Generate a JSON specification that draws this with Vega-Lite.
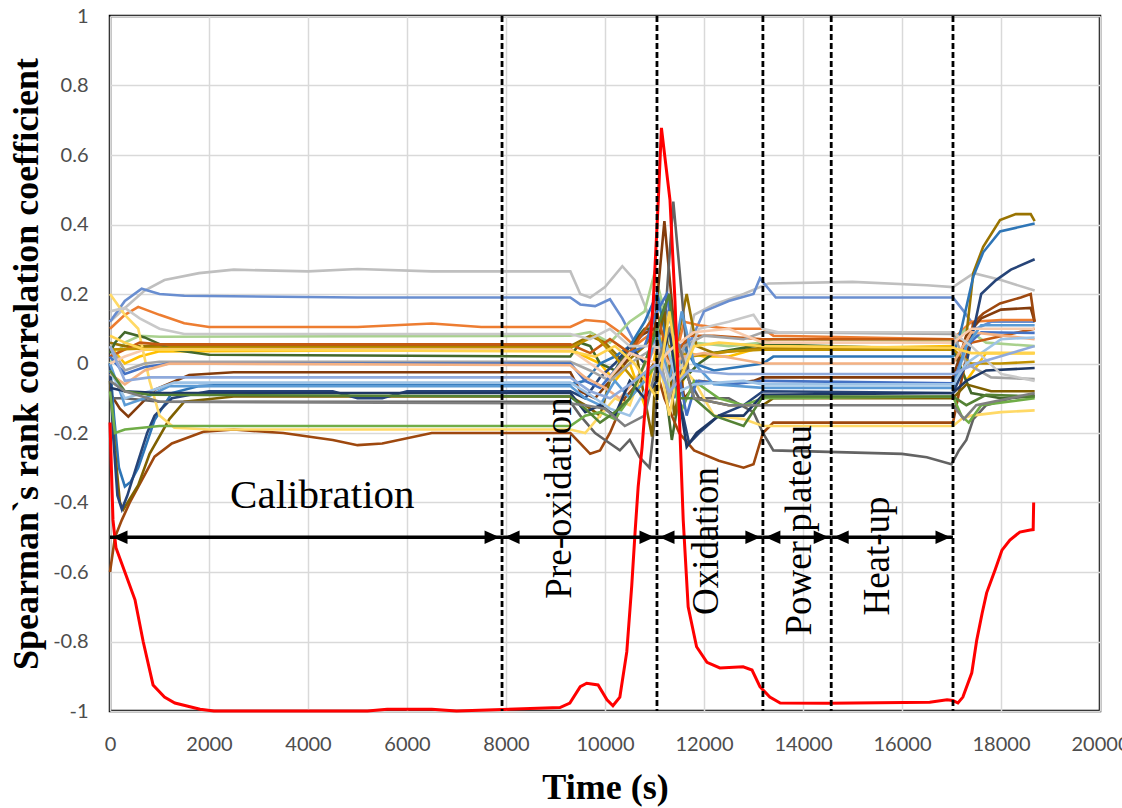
{
  "$schema": "https://vega.github.io/schema/vega-lite/v6.json",
  "width": 990,
  "height": 695,
  "autosize": {"type": "none"},
  "padding": {"left": 110, "top": 16, "right": 22, "bottom": 97},
  "background": "white",
  "config": {
    "view": {"stroke": "#000000", "strokeWidth": 2.5},
    "axis": {
      "grid": true,
      "gridColor": "#D9D9D9",
      "gridWidth": 1.5,
      "domain": false,
      "ticks": false,
      "labelFont": "Lato",
      "labelFontSize": 20,
      "labelColor": "#4D4D4D",
      "labelFlush": false,
      "labelOverlap": false,
      "titleFont": "Liberation Serif",
      "titleFontWeight": "bold",
      "titleFontSize": 36,
      "titleColor": "#000000"
    }
  },
  "datasets": {
    "rho": [
      {"s":"s01","t":0,"v":0.12},{"s":"s01","t":300,"v":0.16},{"s":"s01","t":700,"v":0.21},{"s":"s01","t":1100,"v":0.24},{"s":"s01","t":1800,"v":0.26},{"s":"s01","t":2500,"v":0.27},{"s":"s01","t":4000,"v":0.265},{"s":"s01","t":5000,"v":0.272},{"s":"s01","t":6500,"v":0.265},{"s":"s01","t":9300,"v":0.265},{"s":"s01","t":9500,"v":0.2},{"s":"s01","t":9700,"v":0.19},{"s":"s01","t":10000,"v":0.22},{"s":"s01","t":10350,"v":0.28},{"s":"s01","t":10600,"v":0.24},{"s":"s01","t":10850,"v":0.15},{"s":"s01","t":11050,"v":0.05},{"s":"s01","t":11300,"v":0.1},{"s":"s01","t":11600,"v":0.0},{"s":"s01","t":11800,"v":0.14},{"s":"s01","t":12200,"v":0.17},{"s":"s01","t":12800,"v":0.2},{"s":"s01","t":13300,"v":0.23},{"s":"s01","t":15000,"v":0.235},{"s":"s01","t":16500,"v":0.225},{"s":"s01","t":17030,"v":0.22},{"s":"s01","t":17450,"v":0.26},{"s":"s01","t":18000,"v":0.24},{"s":"s01","t":18680,"v":0.21},

      {"s":"s02","t":0,"v":0.12},{"s":"s02","t":300,"v":0.18},{"s":"s02","t":640,"v":0.215},{"s":"s02","t":1000,"v":0.2},{"s":"s02","t":1500,"v":0.195},{"s":"s02","t":5000,"v":0.19},{"s":"s02","t":9300,"v":0.19},{"s":"s02","t":9500,"v":0.17},{"s":"s02","t":9800,"v":0.165},{"s":"s02","t":10100,"v":0.185},{"s":"s02","t":10350,"v":0.13},{"s":"s02","t":10600,"v":0.06},{"s":"s02","t":10900,"v":0.1},{"s":"s02","t":11050,"v":0.2},{"s":"s02","t":11250,"v":0.15},{"s":"s02","t":11500,"v":0.05},{"s":"s02","t":11750,"v":0.07},{"s":"s02","t":12000,"v":0.15},{"s":"s02","t":12500,"v":0.18},{"s":"s02","t":13000,"v":0.2},{"s":"s02","t":13130,"v":0.245},{"s":"s02","t":13450,"v":0.19},{"s":"s02","t":17030,"v":0.19},{"s":"s02","t":17250,"v":0.15},{"s":"s02","t":17500,"v":0.1},{"s":"s02","t":17800,"v":0.12},{"s":"s02","t":18680,"v":0.12},

      {"s":"s03","t":0,"v":0.1},{"s":"s03","t":300,"v":0.14},{"s":"s03","t":570,"v":0.163},{"s":"s03","t":1000,"v":0.14},{"s":"s03","t":1500,"v":0.116},{"s":"s03","t":2000,"v":0.105},{"s":"s03","t":5000,"v":0.105},{"s":"s03","t":6500,"v":0.115},{"s":"s03","t":7500,"v":0.105},{"s":"s03","t":9300,"v":0.105},{"s":"s03","t":9600,"v":0.125},{"s":"s03","t":10000,"v":0.12},{"s":"s03","t":10300,"v":0.09},{"s":"s03","t":10600,"v":0.05},{"s":"s03","t":11050,"v":0.1},{"s":"s03","t":11300,"v":-0.05},{"s":"s03","t":11600,"v":0.12},{"s":"s03","t":11900,"v":0.11},{"s":"s03","t":12500,"v":0.1},{"s":"s03","t":13190,"v":0.1},{"s":"s03","t":13400,"v":0.08},{"s":"s03","t":17030,"v":0.07},{"s":"s03","t":17400,"v":0.12},{"s":"s03","t":18000,"v":0.125},{"s":"s03","t":18680,"v":0.125},

      {"s":"s04","t":0,"v":0.0},{"s":"s04","t":300,"v":0.06},{"s":"s04","t":600,"v":0.08},{"s":"s04","t":1000,"v":0.077},{"s":"s04","t":9300,"v":0.08},{"s":"s04","t":9700,"v":0.09},{"s":"s04","t":10100,"v":0.06},{"s":"s04","t":10500,"v":0.12},{"s":"s04","t":10800,"v":0.15},{"s":"s04","t":11000,"v":0.26},{"s":"s04","t":11150,"v":0.18},{"s":"s04","t":11300,"v":-0.1},{"s":"s04","t":11500,"v":-0.05},{"s":"s04","t":11800,"v":0.06},{"s":"s04","t":12500,"v":0.05},{"s":"s04","t":13190,"v":0.06},{"s":"s04","t":13400,"v":0.07},{"s":"s04","t":17030,"v":0.065},{"s":"s04","t":17300,"v":0.1},{"s":"s04","t":17700,"v":0.06},{"s":"s04","t":18680,"v":0.05},

      {"s":"s05","t":0,"v":0.05},{"s":"s05","t":300,"v":0.0},{"s":"s05","t":600,"v":0.02},{"s":"s05","t":1000,"v":0.035},{"s":"s05","t":9300,"v":0.04},{"s":"s05","t":9600,"v":0.02},{"s":"s05","t":9900,"v":0.0},{"s":"s05","t":10200,"v":-0.05},{"s":"s05","t":10500,"v":0.0},{"s":"s05","t":10800,"v":-0.12},{"s":"s05","t":11050,"v":0.05},{"s":"s05","t":11300,"v":0.1},{"s":"s05","t":11500,"v":-0.1},{"s":"s05","t":11700,"v":0.03},{"s":"s05","t":12000,"v":0.02},{"s":"s05","t":12500,"v":0.02},{"s":"s05","t":13000,"v":0.04},{"s":"s05","t":13190,"v":0.04},{"s":"s05","t":17030,"v":0.05},{"s":"s05","t":17300,"v":-0.05},{"s":"s05","t":17700,"v":0.03},{"s":"s05","t":18680,"v":0.03},

      {"s":"s06","t":0,"v":0.06},{"s":"s06","t":300,"v":0.05},{"s":"s06","t":1000,"v":0.05},{"s":"s06","t":9300,"v":0.05},{"s":"s06","t":9700,"v":0.08},{"s":"s06","t":10000,"v":0.06},{"s":"s06","t":10400,"v":0.0},{"s":"s06","t":10800,"v":0.05},{"s":"s06","t":11050,"v":0.1},{"s":"s06","t":11300,"v":-0.05},{"s":"s06","t":11650,"v":0.2},{"s":"s06","t":11850,"v":0.05},{"s":"s06","t":12200,"v":0.03},{"s":"s06","t":13190,"v":0.045},{"s":"s06","t":17030,"v":0.045},{"s":"s06","t":17150,"v":0.0},{"s":"s06","t":17300,"v":0.08},{"s":"s06","t":17440,"v":0.26},{"s":"s06","t":17640,"v":0.336},{"s":"s06","t":17980,"v":0.413},{"s":"s06","t":18300,"v":0.43},{"s":"s06","t":18600,"v":0.43},{"s":"s06","t":18680,"v":0.41},

      {"s":"s07","t":0,"v":0.03},{"s":"s07","t":100,"v":0.06},{"s":"s07","t":300,"v":0.09},{"s":"s07","t":700,"v":0.075},{"s":"s07","t":1250,"v":0.04},{"s":"s07","t":2000,"v":0.025},{"s":"s07","t":9300,"v":0.02},{"s":"s07","t":9500,"v":0.06},{"s":"s07","t":9700,"v":0.05},{"s":"s07","t":9900,"v":0.0},{"s":"s07","t":10200,"v":-0.02},{"s":"s07","t":10500,"v":0.05},{"s":"s07","t":10800,"v":0.1},{"s":"s07","t":11000,"v":0.1},{"s":"s07","t":11200,"v":-0.05},{"s":"s07","t":11350,"v":-0.22},{"s":"s07","t":11550,"v":-0.05},{"s":"s07","t":11900,"v":0.0},{"s":"s07","t":12200,"v":0.03},{"s":"s07","t":13190,"v":0.055},{"s":"s07","t":17030,"v":0.04},{"s":"s07","t":17150,"v":0.0},{"s":"s07","t":17400,"v":-0.085},{"s":"s07","t":18000,"v":-0.1},{"s":"s07","t":18680,"v":-0.095},

      {"s":"s08","t":0,"v":-0.085},{"s":"s08","t":200,"v":-0.13},{"s":"s08","t":370,"v":-0.153},{"s":"s08","t":600,"v":-0.12},{"s":"s08","t":900,"v":-0.076},{"s":"s08","t":1600,"v":-0.033},{"s":"s08","t":2500,"v":-0.025},{"s":"s08","t":9300,"v":-0.025},{"s":"s08","t":9500,"v":-0.08},{"s":"s08","t":9800,"v":-0.1},{"s":"s08","t":10100,"v":-0.05},{"s":"s08","t":10400,"v":0.0},{"s":"s08","t":10700,"v":0.08},{"s":"s08","t":11000,"v":0.1},{"s":"s08","t":11200,"v":0.41},{"s":"s08","t":11400,"v":0.1},{"s":"s08","t":11600,"v":-0.1},{"s":"s08","t":11900,"v":-0.05},{"s":"s08","t":12500,"v":-0.06},{"s":"s08","t":13000,"v":-0.05},{"s":"s08","t":13190,"v":-0.04},{"s":"s08","t":17030,"v":-0.04},{"s":"s08","t":17300,"v":0.08},{"s":"s08","t":17600,"v":0.13},{"s":"s08","t":18000,"v":0.155},{"s":"s08","t":18600,"v":0.16},{"s":"s08","t":18680,"v":0.12},

      {"s":"s09","t":0,"v":-0.6},{"s":"s09","t":100,"v":-0.5},{"s":"s09","t":240,"v":-0.45},{"s":"s09","t":400,"v":-0.4},{"s":"s09","t":570,"v":-0.355},{"s":"s09","t":900,"v":-0.268},{"s":"s09","t":1250,"v":-0.23},{"s":"s09","t":1900,"v":-0.196},{"s":"s09","t":2500,"v":-0.19},{"s":"s09","t":3500,"v":-0.2},{"s":"s09","t":4500,"v":-0.22},{"s":"s09","t":5000,"v":-0.235},{"s":"s09","t":5500,"v":-0.23},{"s":"s09","t":6500,"v":-0.2},{"s":"s09","t":7900,"v":-0.2},{"s":"s09","t":9300,"v":-0.2},{"s":"s09","t":9500,"v":-0.23},{"s":"s09","t":9700,"v":-0.26},{"s":"s09","t":9900,"v":-0.25},{"s":"s09","t":10100,"v":-0.2},{"s":"s09","t":10400,"v":-0.1},{"s":"s09","t":10700,"v":-0.05},{"s":"s09","t":11000,"v":0.0},{"s":"s09","t":11200,"v":-0.1},{"s":"s09","t":11500,"v":-0.2},{"s":"s09","t":11800,"v":-0.25},{"s":"s09","t":12300,"v":-0.28},{"s":"s09","t":12800,"v":-0.3},{"s":"s09","t":13000,"v":-0.29},{"s":"s09","t":13190,"v":-0.2},{"s":"s09","t":13400,"v":-0.17},{"s":"s09","t":17030,"v":-0.17},{"s":"s09","t":17200,"v":-0.05},{"s":"s09","t":17440,"v":0.116},{"s":"s09","t":17640,"v":0.144},{"s":"s09","t":17980,"v":0.173},{"s":"s09","t":18400,"v":0.19},{"s":"s09","t":18600,"v":0.2},{"s":"s09","t":18680,"v":0.12},

      {"s":"s10","t":0,"v":-0.1},{"s":"s10","t":300,"v":-0.1},{"s":"s10","t":1000,"v":-0.11},{"s":"s10","t":9300,"v":-0.11},{"s":"s10","t":9500,"v":-0.15},{"s":"s10","t":9800,"v":-0.2},{"s":"s10","t":10000,"v":-0.22},{"s":"s10","t":10300,"v":-0.25},{"s":"s10","t":10500,"v":-0.22},{"s":"s10","t":10700,"v":-0.27},{"s":"s10","t":10900,"v":-0.3},{"s":"s10","t":11050,"v":-0.1},{"s":"s10","t":11200,"v":0.1},{"s":"s10","t":11380,"v":0.466},{"s":"s10","t":11550,"v":0.2},{"s":"s10","t":11700,"v":-0.05},{"s":"s10","t":11900,"v":-0.1},{"s":"s10","t":12500,"v":-0.1},{"s":"s10","t":13000,"v":-0.14},{"s":"s10","t":13190,"v":-0.2},{"s":"s10","t":13400,"v":-0.25},{"s":"s10","t":16000,"v":-0.26},{"s":"s10","t":16500,"v":-0.27},{"s":"s10","t":17000,"v":-0.29},{"s":"s10","t":17150,"v":-0.25},{"s":"s10","t":17300,"v":-0.22},{"s":"s10","t":17440,"v":-0.16},{"s":"s10","t":17700,"v":-0.12},{"s":"s10","t":18200,"v":-0.1},{"s":"s10","t":18680,"v":-0.09},

      {"s":"s11","t":0,"v":0.0},{"s":"s11","t":80,"v":-0.15},{"s":"s11","t":180,"v":-0.3},{"s":"s11","t":300,"v":-0.354},{"s":"s11","t":420,"v":-0.34},{"s":"s11","t":570,"v":-0.3},{"s":"s11","t":740,"v":-0.23},{"s":"s11","t":900,"v":-0.163},{"s":"s11","t":1250,"v":-0.085},{"s":"s11","t":1800,"v":-0.065},{"s":"s11","t":2500,"v":-0.06},{"s":"s11","t":9300,"v":-0.06},{"s":"s11","t":9600,"v":-0.05},{"s":"s11","t":9900,"v":0.0},{"s":"s11","t":10200,"v":0.02},{"s":"s11","t":10500,"v":0.05},{"s":"s11","t":10800,"v":0.12},{"s":"s11","t":11050,"v":0.2},{"s":"s11","t":11200,"v":0.1},{"s":"s11","t":11400,"v":-0.1},{"s":"s11","t":11600,"v":0.05},{"s":"s11","t":11800,"v":0.0},{"s":"s11","t":12200,"v":-0.02},{"s":"s11","t":13190,"v":0.0},{"s":"s11","t":13400,"v":0.02},{"s":"s11","t":17030,"v":0.02},{"s":"s11","t":17200,"v":0.1},{"s":"s11","t":17440,"v":0.25},{"s":"s11","t":17640,"v":0.32},{"s":"s11","t":17980,"v":0.38},{"s":"s11","t":18680,"v":0.403},

      {"s":"s12","t":0,"v":-0.05},{"s":"s12","t":100,"v":-0.25},{"s":"s12","t":200,"v":-0.4},{"s":"s12","t":270,"v":-0.42},{"s":"s12","t":400,"v":-0.39},{"s":"s12","t":570,"v":-0.35},{"s":"s12","t":800,"v":-0.26},{"s":"s12","t":1200,"v":-0.16},{"s":"s12","t":1500,"v":-0.11},{"s":"s12","t":2500,"v":-0.095},{"s":"s12","t":9300,"v":-0.095},{"s":"s12","t":9600,"v":-0.12},{"s":"s12","t":9900,"v":-0.15},{"s":"s12","t":10100,"v":-0.05},{"s":"s12","t":10300,"v":0.0},{"s":"s12","t":10600,"v":0.05},{"s":"s12","t":10800,"v":-0.1},{"s":"s12","t":10950,"v":-0.21},{"s":"s12","t":11050,"v":0.05},{"s":"s12","t":11200,"v":0.15},{"s":"s12","t":11400,"v":-0.15},{"s":"s12","t":11600,"v":0.0},{"s":"s12","t":11800,"v":-0.1},{"s":"s12","t":12500,"v":-0.12},{"s":"s12","t":13190,"v":-0.12},{"s":"s12","t":13400,"v":-0.1},{"s":"s12","t":17030,"v":-0.1},{"s":"s12","t":17300,"v":-0.06},{"s":"s12","t":17800,"v":-0.08},{"s":"s12","t":18680,"v":-0.08},

      {"s":"s13","t":0,"v":0.0},{"s":"s13","t":60,"v":-0.2},{"s":"s13","t":150,"v":-0.38},{"s":"s13","t":240,"v":-0.42},{"s":"s13","t":350,"v":-0.38},{"s":"s13","t":570,"v":-0.28},{"s":"s13","t":750,"v":-0.2},{"s":"s13","t":900,"v":-0.15},{"s":"s13","t":1250,"v":-0.1},{"s":"s13","t":2000,"v":-0.08},{"s":"s13","t":4500,"v":-0.08},{"s":"s13","t":5000,"v":-0.1},{"s":"s13","t":5500,"v":-0.1},{"s":"s13","t":6000,"v":-0.08},{"s":"s13","t":9300,"v":-0.08},{"s":"s13","t":9600,"v":-0.1},{"s":"s13","t":9900,"v":-0.04},{"s":"s13","t":10200,"v":0.0},{"s":"s13","t":10500,"v":0.05},{"s":"s13","t":10800,"v":0.0},{"s":"s13","t":11050,"v":0.1},{"s":"s13","t":11300,"v":0.2},{"s":"s13","t":11500,"v":-0.1},{"s":"s13","t":11700,"v":-0.23},{"s":"s13","t":11900,"v":-0.2},{"s":"s13","t":12300,"v":-0.15},{"s":"s13","t":12800,"v":-0.12},{"s":"s13","t":13190,"v":-0.08},{"s":"s13","t":17030,"v":-0.085},{"s":"s13","t":17300,"v":0.0},{"s":"s13","t":17600,"v":0.2},{"s":"s13","t":17900,"v":0.24},{"s":"s13","t":18200,"v":0.27},{"s":"s13","t":18680,"v":0.3},

      {"s":"s14","t":0,"v":0.2},{"s":"s14","t":300,"v":0.14},{"s":"s14","t":570,"v":0.1},{"s":"s14","t":800,"v":-0.05},{"s":"s14","t":1000,"v":-0.15},{"s":"s14","t":1300,"v":-0.185},{"s":"s14","t":2000,"v":-0.19},{"s":"s14","t":9300,"v":-0.19},{"s":"s14","t":9600,"v":-0.2},{"s":"s14","t":9900,"v":-0.15},{"s":"s14","t":10200,"v":-0.1},{"s":"s14","t":10500,"v":-0.12},{"s":"s14","t":10800,"v":0.0},{"s":"s14","t":11050,"v":0.05},{"s":"s14","t":11300,"v":-0.15},{"s":"s14","t":11500,"v":0.0},{"s":"s14","t":11800,"v":-0.05},{"s":"s14","t":12200,"v":-0.15},{"s":"s14","t":12800,"v":-0.16},{"s":"s14","t":13190,"v":-0.18},{"s":"s14","t":17030,"v":-0.18},{"s":"s14","t":17200,"v":-0.16},{"s":"s14","t":17400,"v":-0.15},{"s":"s14","t":18000,"v":-0.14},{"s":"s14","t":18680,"v":-0.135},

      {"s":"s15","t":0,"v":-0.08},{"s":"s15","t":100,"v":-0.2},{"s":"s15","t":300,"v":-0.19},{"s":"s15","t":1000,"v":-0.18},{"s":"s15","t":9300,"v":-0.18},{"s":"s15","t":9600,"v":-0.15},{"s":"s15","t":9900,"v":-0.14},{"s":"s15","t":10200,"v":-0.16},{"s":"s15","t":10500,"v":-0.1},{"s":"s15","t":10800,"v":-0.05},{"s":"s15","t":11050,"v":0.0},{"s":"s15","t":11300,"v":0.1},{"s":"s15","t":11500,"v":-0.15},{"s":"s15","t":11800,"v":-0.05},{"s":"s15","t":12300,"v":-0.1},{"s":"s15","t":12800,"v":-0.12},{"s":"s15","t":13190,"v":-0.1},{"s":"s15","t":17030,"v":-0.095},{"s":"s15","t":17200,"v":-0.15},{"s":"s15","t":17350,"v":-0.17},{"s":"s15","t":17600,"v":-0.12},{"s":"s15","t":18680,"v":-0.1},

      {"s":"s16","t":0,"v":0.02},{"s":"s16","t":300,"v":0.04},{"s":"s16","t":600,"v":0.06},{"s":"s16","t":1000,"v":0.055},{"s":"s16","t":9300,"v":0.055},{"s":"s16","t":9700,"v":0.03},{"s":"s16","t":10100,"v":0.07},{"s":"s16","t":10500,"v":0.03},{"s":"s16","t":11050,"v":0.15},{"s":"s16","t":11300,"v":0.0},{"s":"s16","t":11700,"v":0.08},{"s":"s16","t":12200,"v":0.08},{"s":"s16","t":13190,"v":0.07},{"s":"s16","t":17030,"v":0.07},{"s":"s16","t":17400,"v":0.06},{"s":"s16","t":18680,"v":0.1},

      {"s":"s17","t":0,"v":0.04},{"s":"s17","t":1000,"v":0.045},{"s":"s17","t":9300,"v":0.045},{"s":"s17","t":9800,"v":0.08},{"s":"s17","t":10200,"v":0.02},{"s":"s17","t":10600,"v":-0.05},{"s":"s17","t":11050,"v":0.0},{"s":"s17","t":11300,"v":0.05},{"s":"s17","t":11700,"v":0.02},{"s":"s17","t":12500,"v":0.035},{"s":"s17","t":13190,"v":0.04},{"s":"s17","t":17030,"v":0.04},{"s":"s17","t":17400,"v":0.0},{"s":"s17","t":18000,"v":0.0},{"s":"s17","t":18680,"v":0.005},

      {"s":"s18","t":0,"v":0.05},{"s":"s18","t":300,"v":-0.02},{"s":"s18","t":700,"v":0.0},{"s":"s18","t":1000,"v":0.005},{"s":"s18","t":9300,"v":0.005},{"s":"s18","t":9700,"v":-0.02},{"s":"s18","t":10100,"v":-0.05},{"s":"s18","t":10500,"v":0.0},{"s":"s18","t":11050,"v":0.05},{"s":"s18","t":11300,"v":-0.1},{"s":"s18","t":11600,"v":0.05},{"s":"s18","t":12000,"v":0.08},{"s":"s18","t":12800,"v":0.07},{"s":"s18","t":13190,"v":0.09},{"s":"s18","t":17030,"v":0.085},{"s":"s18","t":17300,"v":0.0},{"s":"s18","t":17800,"v":-0.04},{"s":"s18","t":18680,"v":-0.045},

      {"s":"s19","t":0,"v":0.02},{"s":"s19","t":300,"v":-0.03},{"s":"s19","t":700,"v":-0.01},{"s":"s19","t":1200,"v":0.0},{"s":"s19","t":9300,"v":0.0},{"s":"s19","t":9600,"v":-0.05},{"s":"s19","t":9900,"v":-0.07},{"s":"s19","t":10200,"v":-0.02},{"s":"s19","t":10500,"v":0.03},{"s":"s19","t":10800,"v":0.05},{"s":"s19","t":11050,"v":0.15},{"s":"s19","t":11250,"v":0.2},{"s":"s19","t":11450,"v":0.0},{"s":"s19","t":11650,"v":-0.15},{"s":"s19","t":11850,"v":-0.05},{"s":"s19","t":12500,"v":-0.06},{"s":"s19","t":13190,"v":-0.05},{"s":"s19","t":17030,"v":-0.057},{"s":"s19","t":17300,"v":0.05},{"s":"s19","t":17600,"v":0.09},{"s":"s19","t":18680,"v":0.088},

      {"s":"s20","t":0,"v":-0.03},{"s":"s20","t":300,"v":-0.06},{"s":"s20","t":700,"v":-0.02},{"s":"s20","t":1200,"v":0.0},{"s":"s20","t":9300,"v":-0.005},{"s":"s20","t":9600,"v":-0.04},{"s":"s20","t":10000,"v":-0.07},{"s":"s20","t":10300,"v":-0.1},{"s":"s20","t":10600,"v":-0.05},{"s":"s20","t":11050,"v":0.05},{"s":"s20","t":11300,"v":0.0},{"s":"s20","t":11600,"v":0.02},{"s":"s20","t":12000,"v":0.03},{"s":"s20","t":13190,"v":0.0},{"s":"s20","t":17030,"v":0.0},{"s":"s20","t":17400,"v":0.09},{"s":"s20","t":18680,"v":0.07},

      {"s":"s21","t":0,"v":0.0},{"s":"s21","t":300,"v":-0.12},{"s":"s21","t":700,"v":-0.1},{"s":"s21","t":1200,"v":-0.065},{"s":"s21","t":9300,"v":-0.065},{"s":"s21","t":9600,"v":-0.1},{"s":"s21","t":9900,"v":-0.12},{"s":"s21","t":10200,"v":-0.05},{"s":"s21","t":10500,"v":-0.1},{"s":"s21","t":10800,"v":-0.05},{"s":"s21","t":11050,"v":0.1},{"s":"s21","t":11300,"v":-0.05},{"s":"s21","t":11550,"v":0.15},{"s":"s21","t":11800,"v":0.0},{"s":"s21","t":12200,"v":-0.06},{"s":"s21","t":13190,"v":-0.07},{"s":"s21","t":17030,"v":-0.07},{"s":"s21","t":17300,"v":0.05},{"s":"s21","t":17600,"v":0.11},{"s":"s21","t":18680,"v":0.11},

      {"s":"s22","t":0,"v":-0.02},{"s":"s22","t":300,"v":-0.1},{"s":"s22","t":800,"v":-0.08},{"s":"s22","t":1300,"v":-0.055},{"s":"s22","t":9300,"v":-0.055},{"s":"s22","t":9700,"v":-0.09},{"s":"s22","t":10100,"v":-0.13},{"s":"s22","t":10500,"v":-0.15},{"s":"s22","t":10800,"v":-0.08},{"s":"s22","t":11050,"v":-0.05},{"s":"s22","t":11250,"v":0.05},{"s":"s22","t":11500,"v":-0.08},{"s":"s22","t":11800,"v":-0.06},{"s":"s22","t":12800,"v":-0.05},{"s":"s22","t":13190,"v":-0.06},{"s":"s22","t":17030,"v":-0.06},{"s":"s22","t":17300,"v":0.0},{"s":"s22","t":18000,"v":0.07},{"s":"s22","t":18680,"v":0.075},

      {"s":"s23","t":0,"v":-0.07},{"s":"s23","t":300,"v":-0.08},{"s":"s23","t":1000,"v":-0.085},{"s":"s23","t":4500,"v":-0.085},{"s":"s23","t":9300,"v":-0.085},{"s":"s23","t":9600,"v":-0.14},{"s":"s23","t":9900,"v":-0.12},{"s":"s23","t":10200,"v":-0.15},{"s":"s23","t":10500,"v":-0.05},{"s":"s23","t":10800,"v":-0.1},{"s":"s23","t":11050,"v":-0.05},{"s":"s23","t":11300,"v":0.1},{"s":"s23","t":11500,"v":-0.1},{"s":"s23","t":11650,"v":-0.24},{"s":"s23","t":11850,"v":-0.2},{"s":"s23","t":12300,"v":-0.15},{"s":"s23","t":12800,"v":-0.15},{"s":"s23","t":13190,"v":-0.09},{"s":"s23","t":17030,"v":-0.085},{"s":"s23","t":17300,"v":-0.05},{"s":"s23","t":17700,"v":-0.02},{"s":"s23","t":18680,"v":-0.013},

      {"s":"s24","t":0,"v":0.15},{"s":"s24","t":300,"v":0.16},{"s":"s24","t":600,"v":0.13},{"s":"s24","t":1000,"v":0.1},{"s":"s24","t":1500,"v":0.085},{"s":"s24","t":9300,"v":0.085},{"s":"s24","t":9700,"v":0.07},{"s":"s24","t":10100,"v":0.1},{"s":"s24","t":10500,"v":0.05},{"s":"s24","t":11050,"v":0.05},{"s":"s24","t":11300,"v":-0.05},{"s":"s24","t":11600,"v":0.0},{"s":"s24","t":11900,"v":0.1},{"s":"s24","t":12500,"v":0.12},{"s":"s24","t":13000,"v":0.14},{"s":"s24","t":13190,"v":0.1},{"s":"s24","t":13500,"v":0.09},{"s":"s24","t":17030,"v":0.09},{"s":"s24","t":17400,"v":0.05},{"s":"s24","t":18000,"v":-0.03},{"s":"s24","t":18680,"v":-0.05},

      {"s":"s25","t":0,"v":-0.02},{"s":"s25","t":300,"v":-0.08},{"s":"s25","t":800,"v":-0.09},{"s":"s25","t":9300,"v":-0.095},{"s":"s25","t":9600,"v":-0.13},{"s":"s25","t":9900,"v":-0.17},{"s":"s25","t":10200,"v":-0.14},{"s":"s25","t":10500,"v":-0.1},{"s":"s25","t":10800,"v":0.0},{"s":"s25","t":11050,"v":0.1},{"s":"s25","t":11300,"v":0.2},{"s":"s25","t":11500,"v":-0.1},{"s":"s25","t":11800,"v":-0.1},{"s":"s25","t":12200,"v":-0.15},{"s":"s25","t":12800,"v":-0.18},{"s":"s25","t":13190,"v":-0.095},{"s":"s25","t":17030,"v":-0.095},{"s":"s25","t":17300,"v":-0.12},{"s":"s25","t":17700,"v":-0.09},{"s":"s25","t":18680,"v":-0.095},

      {"s":"s26","t":0,"v":0.0},{"s":"s26","t":300,"v":0.02},{"s":"s26","t":700,"v":0.04},{"s":"s26","t":9300,"v":0.04},{"s":"s26","t":9700,"v":0.0},{"s":"s26","t":10100,"v":-0.04},{"s":"s26","t":10500,"v":0.03},{"s":"s26","t":11050,"v":0.0},{"s":"s26","t":11400,"v":0.05},{"s":"s26","t":11800,"v":0.09},{"s":"s26","t":12500,"v":0.1},{"s":"s26","t":13190,"v":0.06},{"s":"s26","t":17030,"v":0.06},{"s":"s26","t":17400,"v":0.1},{"s":"s26","t":18680,"v":0.1},

      {"s":"s27","t":0,"v":-0.05},{"s":"s27","t":300,"v":-0.08},{"s":"s27","t":1000,"v":-0.11},{"s":"s27","t":9300,"v":-0.115},{"s":"s27","t":9600,"v":-0.12},{"s":"s27","t":10000,"v":-0.13},{"s":"s27","t":10400,"v":-0.18},{"s":"s27","t":10800,"v":-0.15},{"s":"s27","t":11050,"v":0.0},{"s":"s27","t":11300,"v":0.1},{"s":"s27","t":11500,"v":0.05},{"s":"s27","t":11800,"v":-0.1},{"s":"s27","t":12500,"v":-0.12},{"s":"s27","t":13190,"v":-0.12},{"s":"s27","t":17030,"v":-0.12},{"s":"s27","t":17250,"v":-0.16},{"s":"s27","t":17500,"v":-0.12},{"s":"s27","t":18680,"v":-0.085},

      {"s":"s28","t":0,"v":0.08},{"s":"s28","t":300,"v":0.06},{"s":"s28","t":700,"v":0.04},{"s":"s28","t":9300,"v":0.035},{"s":"s28","t":9800,"v":0.02},{"s":"s28","t":10200,"v":0.05},{"s":"s28","t":10600,"v":0.0},{"s":"s28","t":11050,"v":-0.1},{"s":"s28","t":11300,"v":0.15},{"s":"s28","t":11500,"v":-0.05},{"s":"s28","t":11800,"v":0.05},{"s":"s28","t":12300,"v":0.06},{"s":"s28","t":13190,"v":0.05},{"s":"s28","t":17030,"v":0.045},{"s":"s28","t":17400,"v":0.03},{"s":"s28","t":18680,"v":0.03},

      {"s":"s29","t":0,"v":0.05},{"s":"s29","t":300,"v":-0.05},{"s":"s29","t":800,"v":-0.04},{"s":"s29","t":9300,"v":-0.04},{"s":"s29","t":9700,"v":-0.08},{"s":"s29","t":10100,"v":-0.1},{"s":"s29","t":10500,"v":-0.06},{"s":"s29","t":11050,"v":0.0},{"s":"s29","t":11300,"v":-0.08},{"s":"s29","t":11700,"v":-0.02},{"s":"s29","t":12500,"v":-0.03},{"s":"s29","t":13190,"v":-0.03},{"s":"s29","t":17030,"v":-0.03},{"s":"s29","t":17500,"v":0.0},{"s":"s29","t":18680,"v":0.05},

      {"s":"R","t":0,"v":-0.17},{"s":"R","t":60,"v":-0.45},{"s":"R","t":120,"v":-0.53},{"s":"R","t":300,"v":-0.6},{"s":"R","t":505,"v":-0.68},{"s":"R","t":670,"v":-0.8},{"s":"R","t":870,"v":-0.925},{"s":"R","t":1100,"v":-0.96},{"s":"R","t":1310,"v":-0.977},{"s":"R","t":1820,"v":-0.995},{"s":"R","t":2100,"v":-1.0},{"s":"R","t":5200,"v":-1.0},{"s":"R","t":5600,"v":-0.995},{"s":"R","t":6500,"v":-0.995},{"s":"R","t":7000,"v":-1.0},{"s":"R","t":9090,"v":-0.99},{"s":"R","t":9290,"v":-0.977},{"s":"R","t":9500,"v":-0.93},{"s":"R","t":9630,"v":-0.92},{"s":"R","t":9860,"v":-0.925},{"s":"R","t":10040,"v":-0.968},{"s":"R","t":10160,"v":-0.985},{"s":"R","t":10300,"v":-0.96},{"s":"R","t":10440,"v":-0.83},{"s":"R","t":10540,"v":-0.64},{"s":"R","t":10610,"v":-0.48},{"s":"R","t":10670,"v":-0.355},{"s":"R","t":10750,"v":-0.24},{"s":"R","t":10976,"v":0.18},{"s":"R","t":11077,"v":0.47},{"s":"R","t":11140,"v":0.678},{"s":"R","t":11313,"v":0.47},{"s":"R","t":11414,"v":0.18},{"s":"R","t":11515,"v":-0.2},{"s":"R","t":11580,"v":-0.45},{"s":"R","t":11680,"v":-0.7},{"s":"R","t":11850,"v":-0.815},{"s":"R","t":12060,"v":-0.86},{"s":"R","t":12320,"v":-0.876},{"s":"R","t":12790,"v":-0.873},{"s":"R","t":12970,"v":-0.882},{"s":"R","t":13130,"v":-0.93},{"s":"R","t":13330,"v":-0.96},{"s":"R","t":13540,"v":-0.977},{"s":"R","t":14500,"v":-0.978},{"s":"R","t":16560,"v":-0.975},{"s":"R","t":16910,"v":-0.968},{"s":"R","t":17030,"v":-0.97},{"s":"R","t":17130,"v":-0.977},{"s":"R","t":17230,"v":-0.96},{"s":"R","t":17410,"v":-0.89},{"s":"R","t":17510,"v":-0.796},{"s":"R","t":17620,"v":-0.718},{"s":"R","t":17710,"v":-0.66},{"s":"R","t":17880,"v":-0.594},{"s":"R","t":18020,"v":-0.537},{"s":"R","t":18180,"v":-0.508},{"s":"R","t":18380,"v":-0.485},{"s":"R","t":18590,"v":-0.479},{"s":"R","t":18650,"v":-0.478},{"s":"R","t":18660,"v":-0.4}
    ],
    "bounds": [{"t": 7920}, {"t": 11050}, {"t": 13190}, {"t": 14570}, {"t": 17030}],
    "spans": [
      {"phase": "Calibration", "t": 0, "t2": 7920},
      {"phase": "Pre-oxidation", "t": 7920, "t2": 11050},
      {"phase": "Oxidation", "t": 11050, "t2": 13190},
      {"phase": "Power plateau", "t": 13190, "t2": 14570},
      {"phase": "Heat-up", "t": 14570, "t2": 17030}
    ]
  },
  "layer": [
    {
      "data": {"name": "rho"},
      "transform": [{"filter": "datum.s != 'R'"}],
      "mark": {"type": "line", "strokeWidth": 2.6, "interpolate": "linear"},
      "encoding": {
        "x": {
          "field": "t", "type": "quantitative", "title": "Time (s)",
          "scale": {"domain": [0, 20000], "nice": false},
          "axis": {"values": [0, 2000, 4000, 6000, 8000, 10000, 12000, 14000, 16000, 18000, 20000], "format": "d", "labelPadding": 23, "titlePadding": 16}
        },
        "y": {
          "field": "v", "type": "quantitative", "title": "Spearman`s rank correlation coefficient",
          "scale": {"domain": [-1, 1], "nice": false},
          "axis": {"values": [-1, -0.8, -0.6, -0.4, -0.2, 0, 0.2, 0.4, 0.6, 0.8, 1], "labelExpr": "replace(format(datum.value, '~g'), '\u2212', '-')", "labelPadding": 22, "titlePadding": 7}
        },
        "color": {
          "field": "s", "type": "nominal", "legend": null,
          "scale": {
            "domain": ["s01","s02","s03","s04","s05","s06","s07","s08","s09","s10","s11","s12","s13","s14","s15","s16","s17","s18","s19","s20","s21","s22","s23","s24","s25","s26","s27","s28","s29"],
            "range": ["#BFBFBF","#698ED0","#ED7D31","#A9D18E","#FFC000","#997300","#43682B","#843C0C","#9E480E","#636363","#2E75B6","#7F6000","#264478","#FFD966","#70AD47","#C55A11","#BF9000","#A5A5A5","#4472C4","#F4B183","#5B9BD5","#9DC3E6","#1F3864","#C9C9C9","#548235","#F8CBAD","#7F7F7F","#FFD34D","#8FAADC"]
          }
        }
      }
    },
    {
      "data": {"name": "rho"},
      "transform": [{"filter": "datum.s == 'R'"}],
      "mark": {"type": "line", "color": "#FF0000", "strokeWidth": 3},
      "encoding": {
        "x": {"field": "t", "type": "quantitative"},
        "y": {"field": "v", "type": "quantitative"}
      }
    },
    {
      "data": {"name": "bounds"},
      "mark": {"type": "rule", "color": "#000000", "strokeWidth": 2.8, "strokeDash": [6, 3]},
      "encoding": {
        "x": {"field": "t", "type": "quantitative"}
      }
    },
    {
      "data": {"name": "spans"},
      "mark": {"type": "rule", "color": "#000000", "strokeWidth": 3.5},
      "encoding": {
        "x": {"field": "t", "type": "quantitative"},
        "x2": {"field": "t2"},
        "y": {"datum": -0.5}
      }
    },
    {
      "data": {"name": "spans"},
      "mark": {"type": "point", "filled": true, "opacity": 1, "color": "#000000", "shape": "M-1,0L1,-0.9L1,0.9Z", "size": 225, "xOffset": 10},
      "encoding": {
        "x": {"field": "t", "type": "quantitative"},
        "y": {"datum": -0.5}
      }
    },
    {
      "data": {"name": "spans"},
      "mark": {"type": "point", "filled": true, "opacity": 1, "color": "#000000", "shape": "M1,0L-1,-0.9L-1,0.9Z", "size": 225, "xOffset": -10},
      "encoding": {
        "x": {"field": "t2", "type": "quantitative"},
        "y": {"datum": -0.5}
      }
    },
    {
      "data": {"values": [{"label": "Calibration", "t": 4290, "v": -0.416}]},
      "mark": {"type": "text", "font": "Liberation Serif", "fontSize": 41, "align": "center", "baseline": "alphabetic", "color": "#000000"},
      "encoding": {
        "x": {"field": "t", "type": "quantitative"},
        "y": {"field": "v", "type": "quantitative"},
        "text": {"field": "label"}
      }
    },
    {
      "data": {"values": [
        {"label": "Pre-oxidation", "t": 9090, "v": -0.387},
        {"label": "Oxidation", "t": 12060, "v": -0.511},
        {"label": "Power plateau", "t": 13940, "v": -0.48},
        {"label": "Heat-up", "t": 15515, "v": -0.554}
      ]},
      "mark": {"type": "text", "font": "Liberation Serif", "fontSize": 37, "align": "center", "baseline": "middle", "angle": 270, "color": "#000000"},
      "encoding": {
        "x": {"field": "t", "type": "quantitative"},
        "y": {"field": "v", "type": "quantitative"},
        "text": {"field": "label"}
      }
    }
  ]
}
